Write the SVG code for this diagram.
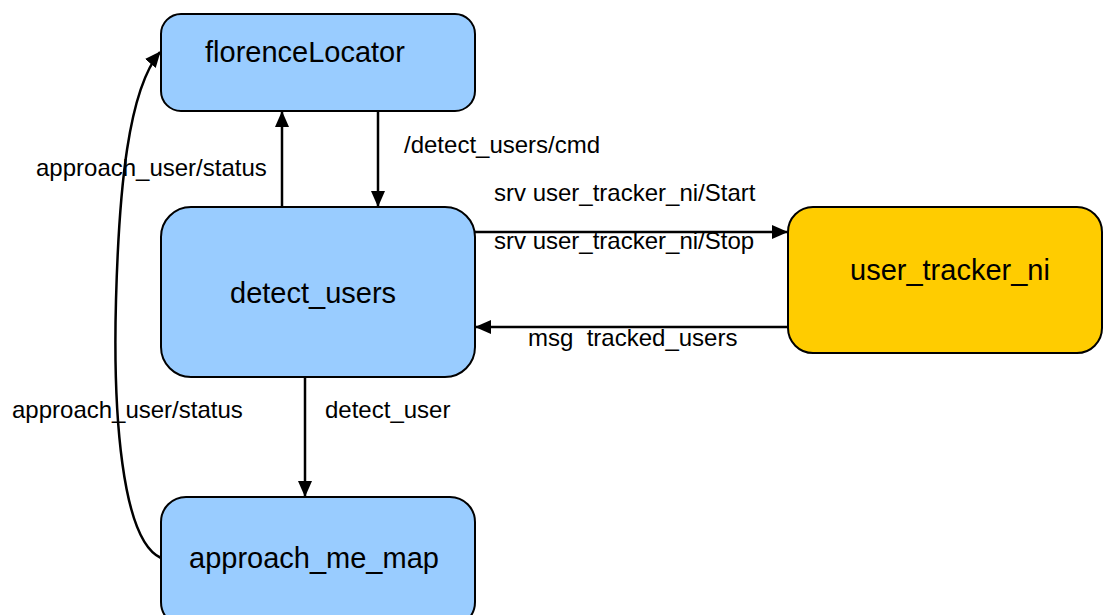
<svg xmlns="http://www.w3.org/2000/svg" width="1104" height="615" viewBox="0 0 1104 615">
<style>
.node rect{stroke:#000;stroke-width:2}
.blue{fill:#99CCFF}
.yellow{fill:#FFCC00}
.nt{font-family:"Liberation Sans",Arial,sans-serif;font-size:29px;fill:#000}
.lb{font-family:"Liberation Sans",Arial,sans-serif;font-size:24px;fill:#000;white-space:pre}
.conn path{fill:none;stroke:#000;stroke-width:2.5}
</style>
<defs>
<marker id="ah" viewBox="0 0 16 14" refX="15" refY="7" markerWidth="16" markerHeight="14" markerUnits="userSpaceOnUse" orient="auto">
<path d="M0,0 L16,7 L0,14 Z" fill="#000"/>
</marker>
</defs>
<rect width="1104" height="615" fill="#fff"/>
<g class="conn">
<path d="M282,207 L282,112" marker-end="url(#ah)"/>
<path d="M378,111 L378,206" marker-end="url(#ah)"/>
<path d="M475,232 L787,232" marker-end="url(#ah)"/>
<path d="M788,327 L476,327" marker-end="url(#ah)"/>
<path d="M305,377 L305,496" marker-end="url(#ah)"/>
<path d="M161,558 C121,540 113,410 116,300 C119,190 128,90 160,52" marker-end="url(#ah)"/>
</g>
<g id="florenceLocator" class="node">
<rect class="blue" x="161" y="14" width="314" height="97" rx="20"/>
<text class="nt" x="205" y="62">florenceLocator</text>
</g>
<g id="detect_users" class="node">
<rect class="blue" x="161" y="207" width="314" height="170" rx="30"/>
<text class="nt" x="230" y="303">detect_users</text>
</g>
<g id="user_tracker_ni" class="node">
<rect class="yellow" x="788" y="207" width="314" height="146" rx="25"/>
<text class="nt" x="850" y="280">user_tracker_ni</text>
</g>
<g id="approach_me_map" class="node">
<rect class="blue" x="161" y="497" width="314" height="130" rx="25"/>
<text class="nt" x="189" y="568">approach_me_map</text>
</g>
<g id="labels">
<text class="lb" x="404" y="153">/detect_users/cmd</text>
<text class="lb" x="36" y="176">approach_user/status</text>
<text class="lb" x="494" y="201">srv user_tracker_ni/Start</text>
<text class="lb" x="494" y="249">srv user_tracker_ni/Stop</text>
<text class="lb" x="528" y="346">msg  tracked_users</text>
<text class="lb" x="12" y="418">approach_user/status</text>
<text class="lb" x="325" y="418">detect_user</text>
</g>
</svg>
